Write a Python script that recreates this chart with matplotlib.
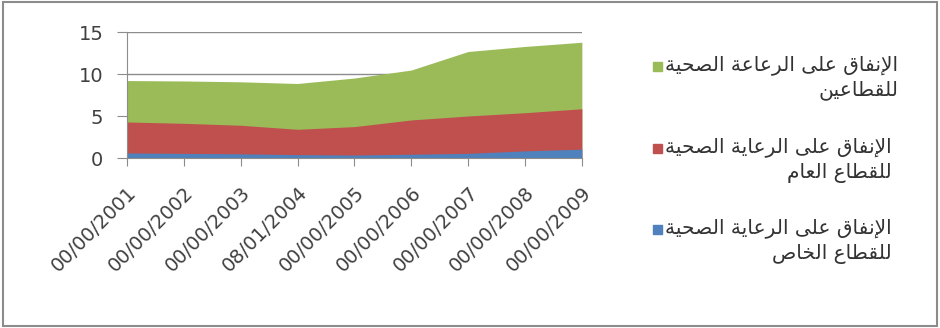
import matplotlib
matplotlib.use("Agg")
import matplotlib.pyplot as plt
from matplotlib.patches import Rectangle

# Presentation forms: (isolated, final, initial, medial)
FORMS = {
    'ا': ('\uFE8D', '\uFE8E', None, None),
    'إ': ('\uFE87', '\uFE88', None, None),
    'ب': ('\uFE8F', '\uFE90', '\uFE91', '\uFE92'),
    'ة': ('\uFE93', '\uFE94', None, None),
    'ح': ('\uFEA1', '\uFEA2', '\uFEA3', '\uFEA4'),
    'خ': ('\uFEA5', '\uFEA6', '\uFEA7', '\uFEA8'),
    'ر': ('\uFEAD', '\uFEAE', None, None),
    'ص': ('\uFEB9', '\uFEBA', '\uFEBB', '\uFEBC'),
    'ط': ('\uFEC1', '\uFEC2', '\uFEC3', '\uFEC4'),
    'ع': ('\uFEC9', '\uFECA', '\uFECB', '\uFECC'),
    'ف': ('\uFED1', '\uFED2', '\uFED3', '\uFED4'),
    'ق': ('\uFED5', '\uFED6', '\uFED7', '\uFED8'),
    'ل': ('\uFEDD', '\uFEDE', '\uFEDF', '\uFEE0'),
    'م': ('\uFEE1', '\uFEE2', '\uFEE3', '\uFEE4'),
    'ن': ('\uFEE5', '\uFEE6', '\uFEE7', '\uFEE8'),
    'ى': ('\uFEEF', '\uFEF0', None, None),
    'ي': ('\uFEF1', '\uFEF2', '\uFEF3', '\uFEF4'),
}
LAM_ALEF = {'ا': ('\uFEFB', '\uFEFC'), 'إ': ('\uFEF9', '\uFEFA')}


def shape_line(s):
    # join letters and put them in visual (right-to-left) order
    out = []
    prev_joins = False
    i = 0
    while i < len(s):
        c = s[i]
        if c not in FORMS:
            out.append(c)
            prev_joins = False
            i += 1
            continue
        if c == 'ل' and i + 1 < len(s) and s[i + 1] in LAM_ALEF:
            iso, fin = LAM_ALEF[s[i + 1]]
            out.append(fin if prev_joins else iso)
            prev_joins = False
            i += 2
            continue
        f = FORMS[c]
        nxt = s[i + 1] if i + 1 < len(s) else None
        joins_next = f[2] is not None and nxt in FORMS
        if prev_joins and joins_next:
            g = f[3]
        elif prev_joins:
            g = f[1]
        elif joins_next:
            g = f[2]
        else:
            g = f[0]
        out.append(g)
        prev_joins = joins_next
        i += 1
    return ''.join(reversed(out))


def shape(text):
    return '\n'.join(shape_line(l) for l in text.split('\n'))


dates = ['00/00/2001', '00/00/2002', '00/00/2003', '08/01/2004', '00/00/2005',
         '00/00/2006', '00/00/2007', '00/00/2008', '00/00/2009']
both_sectors = [9.25, 9.2, 9.1, 8.9, 9.55, 10.5, 12.7, 13.3, 13.8]
public_sector = [4.33, 4.17, 3.94, 3.46, 3.78, 4.57, 5.04, 5.43, 5.9]
private_sector = [0.65, 0.6, 0.55, 0.45, 0.4, 0.5, 0.6, 0.9, 1.1]

labels = ['الإنفاق على الرعاعة الصحية\nللقطاعين',
          'الإنفاق على الرعاية الصحية\nللقطاع العام',
          'الإنفاق على الرعاية الصحية\nللقطاع الخاص']
colors = ['#9BBB59', '#C0504D', '#4F81BD']

fig = plt.figure(figsize=(9.4, 3.28), dpi=100)
ax = fig.add_axes([0.135, 0.517, 0.484, 0.385])

x = list(range(len(dates)))
for vals, c in zip([both_sectors, public_sector, private_sector], colors):
    ax.fill_between(x, 0, vals, color=c, linewidth=0, zorder=2)

ax.set_xlim(0, len(dates) - 1)
ax.set_ylim(0, 15)
ax.set_yticks([0, 5, 10, 15])
ax.grid(axis='y', color='#8c8c8c', linewidth=1, zorder=1)
for s in ['top', 'right']:
    ax.spines[s].set_visible(False)
for s in ['left', 'bottom']:
    ax.spines[s].set_color('#8c8c8c')
ax.tick_params(axis='y', length=7, pad=10, color='#8c8c8c',
               labelsize=14, labelcolor='#404040')
ax.tick_params(axis='x', length=6, pad=12, color='#8c8c8c',
               labelsize=14, labelcolor='#404040')
ax.set_xticks(x)
ax.set_xticklabels(dates, rotation=45, ha='right', va='top',
                   rotation_mode='anchor')

# legend drawn by hand so the square sits beside the first line
rows_y = [66, 148, 229]
for lab, c, yy in zip(labels, colors, rows_y):
    fig.text(665 / 940, 1 - (yy - 11) / 328, shape(lab), ha='left', va='top',
             multialignment='right', fontsize=14.5, color='#333333',
             family='DejaVu Sans', linespacing=1.4)
    fig.patches.append(Rectangle((653 / 940, 1 - (yy + 5) / 328), 9 / 940, 9 / 328,
                                 transform=fig.transFigure, color=c))

# outer frame
fig.patches.append(Rectangle((0.003, 0.006), 0.994, 0.988, transform=fig.transFigure,
                             fill=False, edgecolor='#8c8c8c', linewidth=1.5))

fig.savefig('out.png', dpi=100)
